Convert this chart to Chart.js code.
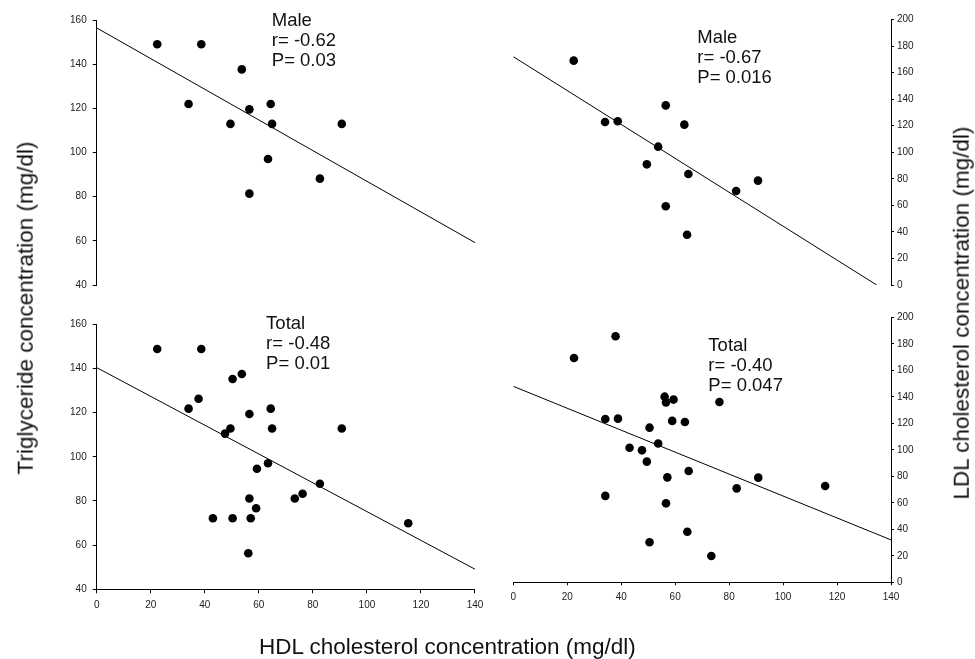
<!DOCTYPE html>
<html>
<head>
<meta charset="utf-8">
<script src="https://cdn.jsdelivr.net/npm/chart.js@4.4.1/dist/chart.umd.min.js"></script>
<style>
  body { margin: 0; background: #fff; width: 975px; height: 659px; overflow: hidden; position: relative;
         font-family: "Liberation Sans", Arial, sans-serif; }
  canvas { position: absolute; left: 0; top: 0; }
  .title { position: absolute; font-size: 22.5px; line-height: 22.5px; white-space: nowrap; color: #111; }
  .rot { transform: translate(-50%, -50%) rotate(-90deg); }
</style>
</head>
<body>
<canvas id="tl" width="975" height="659"></canvas>
<canvas id="tr" width="975" height="659"></canvas>
<canvas id="bl" width="975" height="659"></canvas>
<canvas id="br" width="975" height="659"></canvas>

<div class="title rot" style="left:25.5px; top:308px;">Triglyceride concentration (mg/dl)</div>
<div class="title rot" style="left:962px; top:313px;">LDL cholesterol concentration (mg/dl)</div>
<div class="title" style="left:259px; top:636px;">HDL cholesterol concentration (mg/dl)</div>

<script>
// --- data ---
// male subjects (same HDL values used in both male panels)
const maleHdl = [22.4, 38.7, 53.7, 34.0, 56.5, 64.4, 49.5, 64.9, 90.7, 63.4, 82.6, 56.5];
const maleTg  = [149.1, 149.1, 137.7, 122.0, 119.6, 122.0, 113.0, 113.0, 113.0, 97.1, 88.2, 81.4];
const maleLdl = [169.0, 123.3, 104.2, 122.8, 135.3, 37.9, 90.9, 83.6, 78.6, 120.8, 70.8, 59.3];

// all subjects, triglyceride panel
const totalHdlTg = [22.4, 38.7, 53.7, 50.3, 37.7, 34.0, 56.5, 64.4, 49.5, 64.9, 90.7, 47.5,
                    63.4, 59.3, 82.6, 76.2, 73.3, 56.5, 59.0, 43.0, 50.3, 57.0, 115.3, 56.1];
const totalTg    = [148.8, 148.8, 137.5, 135.2, 126.3, 121.8, 119.4, 121.8, 112.8, 112.8, 112.8, 110.5,
                    97.1, 94.6, 87.8, 83.3, 81.1, 81.1, 76.7, 72.2, 72.2, 72.2, 69.9, 56.3];

// all subjects, LDL panel
const totalHdlLdl = [37.9, 22.5, 56.1, 56.6, 59.4, 76.4, 34.1, 38.8, 58.9, 63.6, 50.5, 53.7, 43.1,
                     47.7, 49.5, 65.0, 57.1, 90.8, 82.8, 115.6, 34.1, 56.6, 64.5, 50.5, 73.4];
const totalLdl    = [185.7, 169.3, 140.1, 135.8, 137.9, 136.1, 123.3, 123.5, 121.8, 121.0, 116.7, 104.7, 101.6,
                     99.6, 91.1, 84.0, 79.2, 79.0, 70.9, 72.7, 65.2, 59.6, 38.2, 30.2, 19.9];

// regression line end points
const fitX        = [0, 140];
const maleTgFit   = [156.5, 59.2];
const maleLdlFitX = [0, 134.7];
const maleLdlFit  = [172, 0];
const totalTgFit  = [140.4, 49.1];
const totalLdlFit = [147.9, 32.0];

// text in each panel
const maleTgNote   = ['Male', 'r= -0.62', 'P= 0.03'];
const maleLdlNote  = ['Male', 'r= -0.67', 'P= 0.016'];
const totalTgNote  = ['Total', 'r= -0.48', 'P= 0.01'];
const totalLdlNote = ['Total', 'r= -0.40', 'P= 0.047'];

const xTicks = [0, 20, 40, 60, 80, 100, 120, 140];

// --- drawing ---
const FONT = '"Liberation Sans", Arial, sans-serif';
const W = 975, H = 659, Y_W = 40, X_H = 30;

const pairs = (xs, ys) => xs.map((x, i) => ({ x: x, y: ys[i] }));

const notePlugin = {
  id: 'note',
  afterDatasetsDraw(chart, args, opts) {
    if (!opts.lines) return;
    const ctx = chart.ctx;
    const px = chart.scales.x.getPixelForValue(opts.x);
    const py = chart.scales.y.getPixelForValue(opts.y);
    ctx.save();
    ctx.font = '18.5px ' + FONT;
    ctx.fillStyle = '#111';
    ctx.textBaseline = 'alphabetic';
    ctx.textAlign = 'left';
    opts.lines.forEach((t, i) => ctx.fillText(t, px, py + i * 20));
    ctx.restore();
  }
};

function makePanel(cfg) {
  const [l, t, r, b] = cfg.box;
  const right = cfg.yPos === 'right';
  const padding = {
    left: right ? l : l - Y_W,
    right: right ? W - r - Y_W : W - r,
    top: t,
    bottom: H - b - (cfg.showX ? X_H : 0)
  };
  const axisGrid = {
    display: true, drawOnChartArea: false, drawTicks: true,
    tickLength: right ? 3 : 4, color: '#000', lineWidth: 1
  };

  return new Chart(document.getElementById(cfg.id), {
    type: 'scatter',
    data: {
      datasets: [
        {
          data: pairs(cfg.xs, cfg.ys),
          pointRadius: 4.3,
          pointHoverRadius: 4.3,
          pointBackgroundColor: '#000',
          pointBorderWidth: 0,
          showLine: false
        },
        {
          data: pairs(cfg.fitX, cfg.fitY),
          showLine: true,
          borderColor: '#000',
          borderWidth: 1,
          pointRadius: 0
        }
      ]
    },
    options: {
      responsive: false,
      animation: false,
      devicePixelRatio: 1,
      layout: { padding: padding },
      plugins: {
        legend: { display: false },
        tooltip: { enabled: false },
        note: { lines: cfg.note, x: cfg.noteX, y: cfg.noteY }
      },
      scales: {
        x: {
          type: 'linear',
          min: 0, max: 140,
          display: cfg.showX,
          afterFit(s) { s.height = cfg.showX ? X_H : 0; },
          afterBuildTicks(s) { s.ticks = xTicks.map(v => ({ value: v })); },
          border: { display: true, color: '#000', width: 1 },
          grid: axisGrid,
          ticks: { color: '#222', font: { family: FONT, size: 10 }, padding: 6, maxRotation: 0 }
        },
        y: {
          type: 'linear',
          position: cfg.yPos,
          min: cfg.yMin, max: cfg.yMax,
          afterFit(s) { s.width = Y_W; },
          border: { display: true, color: '#000', width: 1 },
          grid: axisGrid,
          ticks: { color: '#222', font: { family: FONT, size: 10 }, stepSize: cfg.yStep,
                   padding: right ? 3 : 6 }
        }
      }
    },
    plugins: [notePlugin]
  });
}

makePanel({ id: 'tl', box: [96.7, 20.2, 475, 285], yPos: 'left', yMin: 40, yMax: 160, yStep: 20, showX: false,
            xs: maleHdl, ys: maleTg, fitX: fitX, fitY: maleTgFit,
            note: maleTgNote, noteX: 64.8, noteY: 157.4 });
makePanel({ id: 'tr', box: [513.3, 19.5, 891, 285], yPos: 'right', yMin: 0, yMax: 200, yStep: 20, showX: false,
            xs: maleHdl, ys: maleLdl, fitX: maleLdlFitX, fitY: maleLdlFit,
            note: maleLdlNote, noteX: 68.2, noteY: 182 });
makePanel({ id: 'bl', box: [96.7, 324.3, 475, 589.3], yPos: 'left', yMin: 40, yMax: 160, yStep: 20, showX: true,
            xs: totalHdlTg, ys: totalTg, fitX: fitX, fitY: totalTgFit,
            note: totalTgNote, noteX: 62.7, noteY: 157.7 });
makePanel({ id: 'br', box: [513.3, 317.3, 891, 582.3], yPos: 'right', yMin: 0, yMax: 200, yStep: 20, showX: true,
            xs: totalHdlLdl, ys: totalLdl, fitX: fitX, fitY: totalLdlFit,
            note: totalLdlNote, noteX: 72.3, noteY: 174.8 });
</script>
</body>
</html>
